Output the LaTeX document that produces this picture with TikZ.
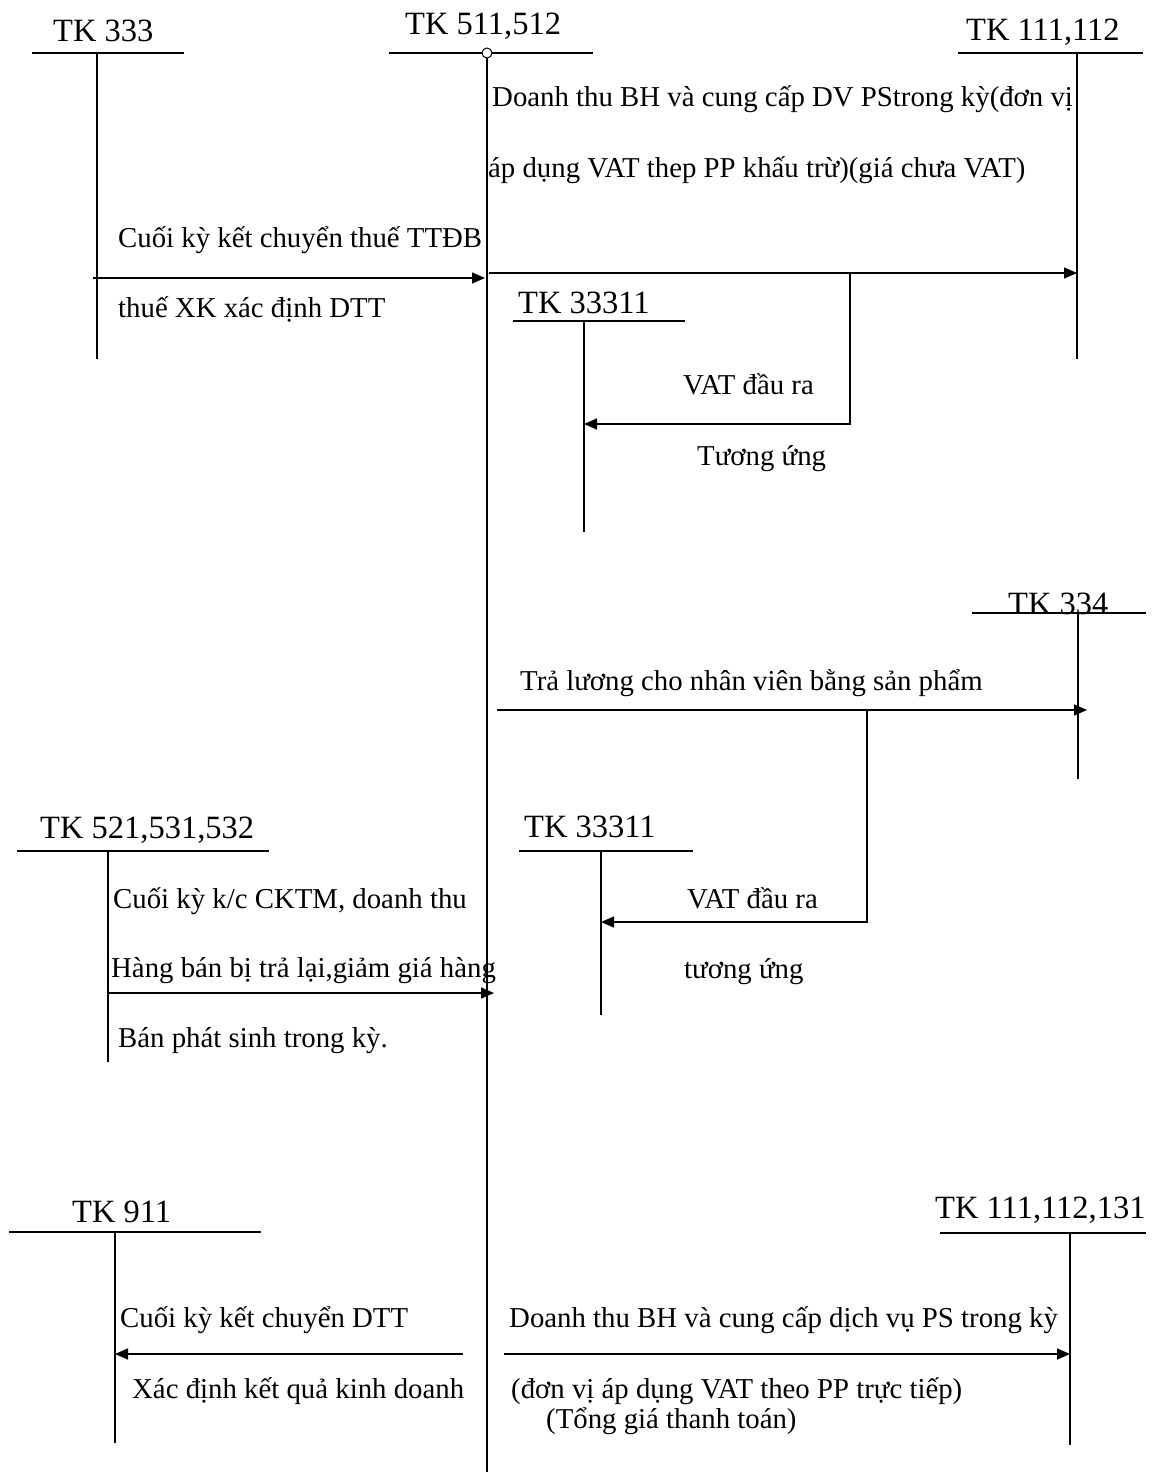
\documentclass[tikz,border=0pt]{standalone}
\usepackage{fontspec}
\setmainfont{Liberation Serif}
\usetikzlibrary{arrows.meta}
\begin{document}
\begin{tikzpicture}[x=1pt,y=-1pt,
  ttl/.style={font=\fontsize{32.5}{36}\selectfont, inner sep=0pt, anchor=base west},
  lbl/.style={font=\fontsize{28.8}{32}\selectfont, inner sep=0pt, anchor=base west},
  acc/.style={line width=1.5pt},
  arr/.style={line width=1.5pt, -{Triangle[length=13pt,width=11pt]}}]
\useasboundingbox (0,0) rectangle (1166,1482);

% ---- account titles
\node[ttl] (t333)   at (53,42)    {TK 333};
\node[ttl] (t511)   at (405,35)   {TK 511,512};
\node[ttl] (t111)   at (966,41)   {TK 111,112};
\node[ttl] (t33311a) at (518,313) {TK 33311};
\node[ttl] (t334)   at (1008,614) {TK 334};
\node[ttl] (t33311b) at (524,837) {TK 33311};
\node[ttl] (t521)   at (40,838)   {TK 521,531,532};
\node[ttl] (t911)   at (72,1222)  {TK 911};
\node[ttl] (t111b)  at (935,1218) {TK 111,112,131};

% ---- T-account shapes
\draw[acc] (32,53) -- (184,53);   \draw[acc] (97,53) -- (97,359);
\draw[acc] (389,53) -- (593,53);  \draw[acc] (487,53) -- (487,1472);
\draw[acc] (958,53) -- (1143,53); \draw[acc] (1077,53) -- (1077,359);
\draw[acc] (513,321) -- (685,321); \draw[acc] (584,321) -- (584,532);
\draw[acc] (972,613) -- (1146,613); \draw[acc] (1078,613) -- (1078,779);
\draw[acc] (519,851) -- (693,851); \draw[acc] (601,851) -- (601,1015);
\draw[acc] (17,851) -- (269,851);  \draw[acc] (108,851) -- (108,1062);
\draw[acc] (9,1232) -- (261,1232); \draw[acc] (115,1232) -- (115,1443);
\draw[acc] (940,1233) -- (1146,1233); \draw[acc] (1070,1233) -- (1070,1445);
\draw[line width=1pt, fill=white] (487,53) circle (5);

% ---- connector end points
\coordinate (a1s) at (93,278);   \coordinate (a1e) at (485,278);
\coordinate (a2s) at (489,273);  \coordinate (a2e) at (1077,273);
\coordinate (b1s) at (850,273);  \coordinate (b1c) at (850,424); \coordinate (b1e) at (584,424);
\coordinate (a3s) at (497,710);  \coordinate (a3e) at (1087,710);
\coordinate (b2s) at (867,710);  \coordinate (b2c) at (867,922); \coordinate (b2e) at (601,922);
\coordinate (a4s) at (108,993);  \coordinate (a4e) at (494,993);
\coordinate (a5s) at (463,1354); \coordinate (a5e) at (115,1354);
\coordinate (a6s) at (504,1354); \coordinate (a6e) at (1070,1354);

% ---- connectors
\draw[arr] (a1s) -- (a1e);
\draw[arr] (a2s) -- (a2e);
\draw[arr] (b1s) -- (b1c) -- (b1e);
\draw[arr] (a3s) -- (a3e);
\draw[arr] (b2s) -- (b2c) -- (b2e);
\draw[arr] (a4s) -- (a4e);
\draw[arr] (a5s) -- (a5e);
\draw[arr] (a6s) -- (a6e);

% ---- labels
\node[lbl] (l1)  at (492,107)  {Doanh thu BH và cung cấp DV PStrong kỳ(đơn vị};
\node[lbl] (l2)  at (488,178)  {áp dụng VAT thep PP khấu trừ)(giá chưa VAT)};
\node[lbl] (l3)  at (118,247)  {Cuối kỳ kết chuyển thuế TTĐB};
\node[lbl] (l4)  at (118,317)  {thuế XK xác định DTT};
\node[lbl] (l5)  at (683,394)  {VAT đầu ra};
\node[lbl] (l6)  at (697,465)  {Tương ứng};
\node[lbl] (l7)  at (520,690)  {Trả lương cho nhân viên bằng sản phẩm};
\node[lbl] (l8)  at (687,908)  {VAT đầu ra};
\node[lbl] (l9)  at (684,978)  {tương ứng};
\node[lbl] (l10) at (113,908)  {Cuối kỳ k/c CKTM, doanh thu};
\node[lbl] (l11) at (111,977)  {Hàng bán bị trả lại,giảm giá hàng};
\node[lbl] (l12) at (118,1047) {Bán phát sinh trong kỳ.};
\node[lbl] (l13) at (120,1327) {Cuối kỳ kết chuyển DTT};
\node[lbl] (l14) at (132,1398) {Xác định kết quả kinh doanh};
\node[lbl] (l15) at (509,1327) {Doanh thu BH và cung cấp dịch vụ PS trong kỳ};
\node[lbl] (l16) at (511,1398) {(đơn vị áp dụng VAT theo PP trực tiếp)};
\node[lbl] (l17) at (546,1428) {(Tổng giá thanh toán)};
\end{tikzpicture}
\end{document}
